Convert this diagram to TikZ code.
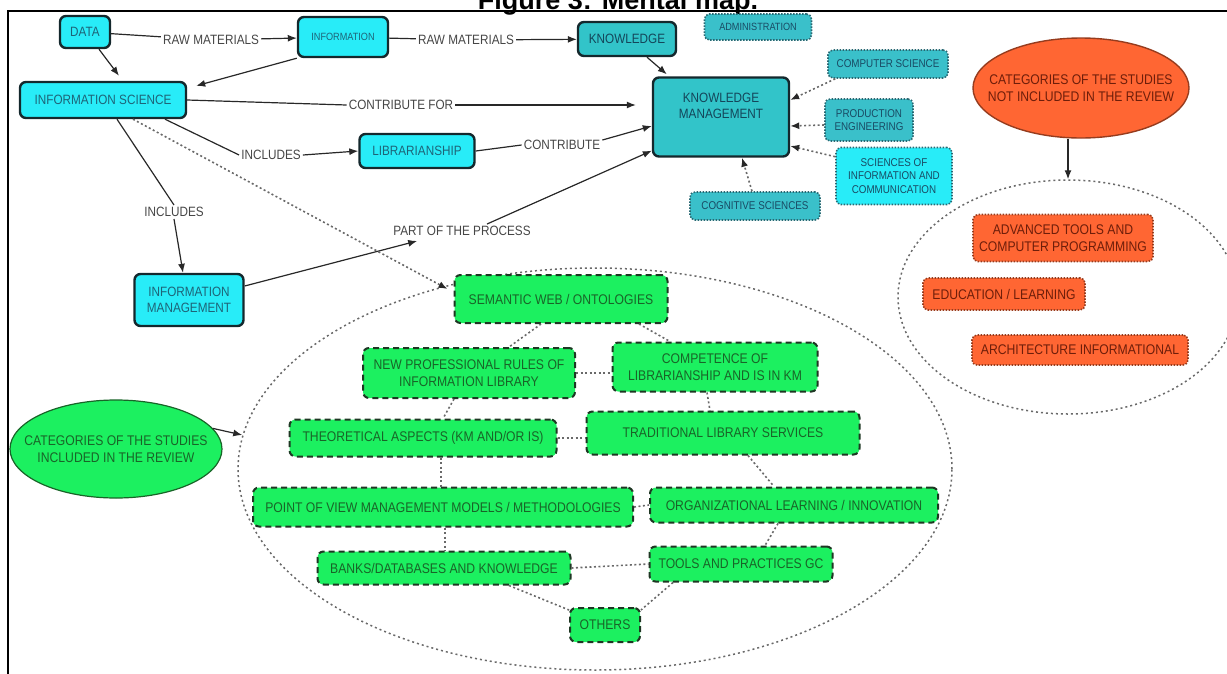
\documentclass[tikz,border=0pt]{standalone}
\usepackage{fontspec}
\setmainfont[FakeStretch=0.87]{Liberation Sans}
\newfontfamily\titlefont{Liberation Sans}
\usetikzlibrary{arrows.meta,shapes.geometric,calc}
\definecolor{cyanF}{RGB}{40,236,248}
\definecolor{cyanT}{RGB}{30,100,120}
\definecolor{tealF}{RGB}{50,196,201}
\definecolor{tealT}{RGB}{20,70,90}
\definecolor{boxB}{RGB}{20,40,45}
\definecolor{satF}{RGB}{58,192,202}
\definecolor{satB}{RGB}{40,105,115}
\definecolor{satT}{RGB}{25,75,100}
\definecolor{grF}{RGB}{28,240,96}
\definecolor{grB}{RGB}{30,55,35}
\definecolor{grT}{RGB}{25,100,40}
\definecolor{orF}{RGB}{255,102,51}
\definecolor{orB}{RGB}{150,60,30}
\definecolor{orT}{RGB}{110,30,10}
\definecolor{lblT}{RGB}{70,70,70}
\definecolor{lineC}{RGB}{40,40,40}
\definecolor{dotC}{RGB}{105,105,105}
\begin{document}
\begin{tikzpicture}[x=1pt,y=-1pt,
  >={Latex[length=9pt,width=7pt]},
  blk/.style={-{Latex[length=9pt,width=7pt,color=lineC,fill=lineC]}},
  base/.style={align=center, inner sep=0pt, rounded corners=6pt},
  cyanbox/.style={base, draw=boxB, line width=2.4pt, fill=cyanF, text=cyanT, font=\fontsize{13.5}{16}\selectfont},
  tealbox/.style={cyanbox, fill=tealF, text=tealT},
  satbox/.style={base, rounded corners=5pt, draw=satB, line width=1.6pt, dash pattern=on 1.5pt off 1.5pt, fill=satF, text=satT, font=\fontsize{11.3}{13.7}\selectfont},
  greenbox/.style={base, draw=grB, line width=2pt, dash pattern=on 6pt off 4pt, fill=grF, text=grT, font=\fontsize{14}{17}\selectfont},
  orbox/.style={base, rounded corners=5pt, draw=orB, line width=1.6pt, dash pattern=on 1.5pt off 1.5pt, fill=orF, text=orT, font=\fontsize{14}{17}\selectfont},
  lbl/.style={text=lblT, font=\fontsize{13.5}{16}\selectfont, inner sep=2pt},
  conn/.style={draw=lineC, line width=1.2pt},
  dotconn/.style={draw=dotC, line width=1.6pt, dash pattern=on 2pt off 2.5pt},
  bigell/.style={ellipse, draw=dotC, line width=1.5pt, dash pattern=on 2pt off 3pt, inner sep=0pt},
  ellnode/.style={ellipse, inner sep=0pt},
  elltext/.style={align=center, font=\fontsize{14}{17}\selectfont, inner sep=0pt},
]
\useasboundingbox (0,0) rectangle (1227,673);

% title (partly cut off at the top, as in the reference)
\node[font=\titlefont\bfseries\fontsize{27}{30}\selectfont, anchor=base] (title) at (618,9) {Figure 3: Mental map.};
% frame
\draw[line width=2pt] (8,674) -- (8,11) -- (1228,11);

% big dashed ellipses
\node[bigell, minimum width=714, minimum height=402] (bigell) at (595,469) {};
\node[bigell, minimum width=340, minimum height=234] (rell) at (1068,297) {};

% main nodes
\node[cyanbox, minimum width=50, minimum height=32] (data) at (85,32) {DATA};
\node[cyanbox, minimum width=90, minimum height=40, font=\fontsize{10.5}{12}\selectfont] (info) at (343,37) {INFORMATION};
\node[tealbox, minimum width=98, minimum height=34] (know) at (627,39) {KNOWLEDGE};
\node[satbox, minimum width=107, minimum height=26, font=\fontsize{10.5}{12}\selectfont] (admin) at (758,27) {ADMINISTRATION};
\node[cyanbox, minimum width=166, minimum height=36] (infsci) at (103,100) {INFORMATION SCIENCE};
\node[tealbox, minimum width=136, minimum height=79] (km) at (721,117) {};
\node[text=tealT, font=\fontsize{13.5}{16}\selectfont, align=center] (kmt) at (721,106) {KNOWLEDGE\\MANAGEMENT};
\node[satbox, minimum width=120, minimum height=28] (compsci) at (888,64) {COMPUTER SCIENCE};
\node[satbox, minimum width=88, minimum height=42] (prod) at (869,120) {PRODUCTION\\ENGINEERING};
\node[satbox, fill=cyanF, minimum width=116, minimum height=57] (sci) at (894,176) {SCIENCES OF\\INFORMATION AND\\COMMUNICATION};
\node[satbox, minimum width=130, minimum height=28] (cog) at (755,206) {COGNITIVE SCIENCES};
\node[cyanbox, minimum width=115, minimum height=34] (lib) at (417,151) {LIBRARIANSHIP};
\node[cyanbox, minimum width=109, minimum height=52] (im) at (189,300) {INFORMATION\\MANAGEMENT};

% ellipses with categories
\node[ellnode, draw=orB, line width=1.4pt, fill=orF, minimum width=216, minimum height=100] (notinc) at (1081,88) {};
\node[elltext, text=orT] (notinct) at (1081,88) {CATEGORIES OF THE STUDIES\\NOT INCLUDED IN THE REVIEW};
\node[ellnode, draw=grT, line width=1.2pt, fill=grF, minimum width=212, minimum height=98] (inc) at (116,449) {};
\node[elltext, text=grT] (inct) at (116,449) {CATEGORIES OF THE STUDIES\\INCLUDED IN THE REVIEW};

% orange boxes
\node[orbox, minimum width=180, minimum height=47] (adv) at (1063,238) {ADVANCED TOOLS AND\\COMPUTER PROGRAMMING};
\node[orbox, minimum width=162, minimum height=32] (edu) at (1004,294) {EDUCATION / LEARNING};
\node[orbox, minimum width=216, minimum height=30] (arch) at (1080,350) {ARCHITECTURE INFORMATIONAL};

% green boxes
\node[greenbox, minimum width=213, minimum height=48] (sem) at (561,299) {SEMANTIC WEB / ONTOLOGIES};
\node[greenbox, minimum width=212, minimum height=50] (newp) at (469,373) {NEW PROFESSIONAL RULES OF\\INFORMATION LIBRARY};
\node[greenbox, minimum width=205, minimum height=49] (comp) at (715,367) {COMPETENCE OF\\LIBRARIANSHIP AND IS IN KM};
\node[greenbox, minimum width=267, minimum height=37] (theo) at (423,438) {THEORETICAL ASPECTS (KM AND/OR IS)};
\node[greenbox, minimum width=273, minimum height=43] (trad) at (723,433) {TRADITIONAL LIBRARY SERVICES};
\node[greenbox, minimum width=380, minimum height=39] (pov) at (443,507) {POINT OF VIEW MANAGEMENT MODELS / METHODOLOGIES};
\node[greenbox, minimum width=288, minimum height=35] (org) at (794,505) {ORGANIZATIONAL LEARNING / INNOVATION};
\node[greenbox, minimum width=253, minimum height=33] (banks) at (444,568) {BANKS/DATABASES AND KNOWLEDGE};
\node[greenbox, minimum width=183, minimum height=35] (tools) at (741,564) {TOOLS AND PRACTICES GC};
\node[greenbox, minimum width=70, minimum height=34] (others) at (605,625) {OTHERS};

% linking phrases
\node[lbl] (l1) at (211,40) {RAW MATERIALS};
\node[lbl] (l2) at (466,40) {RAW MATERIALS};
\node[lbl] (l3) at (401,105) {CONTRIBUTE FOR};
\node[lbl] (l4) at (271,155) {INCLUDES};
\node[lbl] (l5) at (562,145) {CONTRIBUTE};
\node[lbl] (l6) at (174,212) {INCLUDES};
\node[lbl] (l7) at (462,231) {PART OF THE PROCESS};

% solid connectors
\draw[conn] (data) -- (l1);
\draw[conn,->] (l1) -- (info);
\draw[conn] (info) -- (l2);
\draw[conn,->] (l2) -- (know);
\draw[conn,->] ($(data.south)+(14,0)$) -- ($(infsci.north)+(16,-5)$);
\draw[conn,->] (info.south west) -- ($(infsci.north east)+(9,5)$);
\draw[conn,->] ($(know.south)+(20,0)$) -- ($(km.north west)+(15,-2)$);
\draw[conn] (infsci.east) -- (l3.west);
\draw[conn,->] (l3.east) -- ($(km.west)+(-16,-12)$);
\draw[conn] ($(infsci.south)+(62,0)$) -- (l4.west);
\draw[conn,->] (l4.east) -- (lib.west);
\draw[conn] (lib.east) -- (l5.west);
\draw[conn,->] ($(l5.north east)+(0,2)$) -- ($(km.west)+(0,9)$);
\draw[conn] ($(infsci.south)+(14,0)$) -- (l6.north);
\draw[conn,->] (l6.south) -- ($(im.north)+(-6,0)$);
\draw[conn,->] ($(im.east)+(0,-14)$) -- ($(l7.south west)+(26,3)$);
\draw[conn,->] ($(l7.north)+(25,0)$) -- ($(km.south west)+(0,-7)$);
\draw[conn,->] (inc.12) -- ($(bigell.west)+(5,-34)$);
\draw[conn,->] (notinc.south -| rell.north) -- (rell.north);

% dashed arrow
\draw[dotconn,blk] ($(infsci.south)+(30,0)$) -- ($(sem.west)+(-6,-10)$);

% satellites into KM
\draw[dotconn,blk] ($(compsci.south west)+(8,0)$) -- ($(km.east)+(0,-17)$);
\draw[dotconn,blk] ($(prod.west)+(0,5)$) -- ($(km.east)+(0,9)$);
\draw[dotconn,blk] ($(sci.north west)+(0,10)$) -- ($(km.east)+(0,29)$);
\draw[dotconn,blk] ($(cog.north)+(-3,0)$) -- ($(km.south)+(21,0)$);

% links between categories
\draw[dotconn] ($(sem.south)+(-20,0)$) -- ($(newp.north)+(40,0)$);
\draw[dotconn] ($(sem.south)+(78,0)$) -- ($(comp.north)+(-45,0)$);
\draw[dotconn] (newp.east) -- (comp.west |- newp.east);
\draw[dotconn] ($(newp.south)+(-15,0)$) -- ($(theo.north)+(20,0)$);
\draw[dotconn] (theo.east) -- (trad.west |- theo.east);
\draw[dotconn] ($(comp.south)+(-8,0)$) -- ($(trad.north)+(-13,0)$);
\draw[dotconn] ($(theo.south)+(18,0)$) -- ($(pov.north)+(-2,0)$);
\draw[dotconn] ($(trad.south)+(25,0)$) -- ($(org.north)+(-20,0)$);
\draw[dotconn] (pov.east) -- (org.west);
\draw[dotconn] ($(pov.south)+(2,0)$) -- ($(banks.north)+(1,0)$);
\draw[dotconn] ($(org.south)+(-16,0)$) -- ($(tools.north)+(24,0)$);
\draw[dotconn] (banks.east) -- (tools.west);
\draw[dotconn] ($(banks.south)+(65,0)$) -- ($(others.north west)+(0,3)$);
\draw[dotconn] ($(tools.south)+(-68,0)$) -- ($(others.north east)+(0,3)$);
\end{tikzpicture}
\end{document}
